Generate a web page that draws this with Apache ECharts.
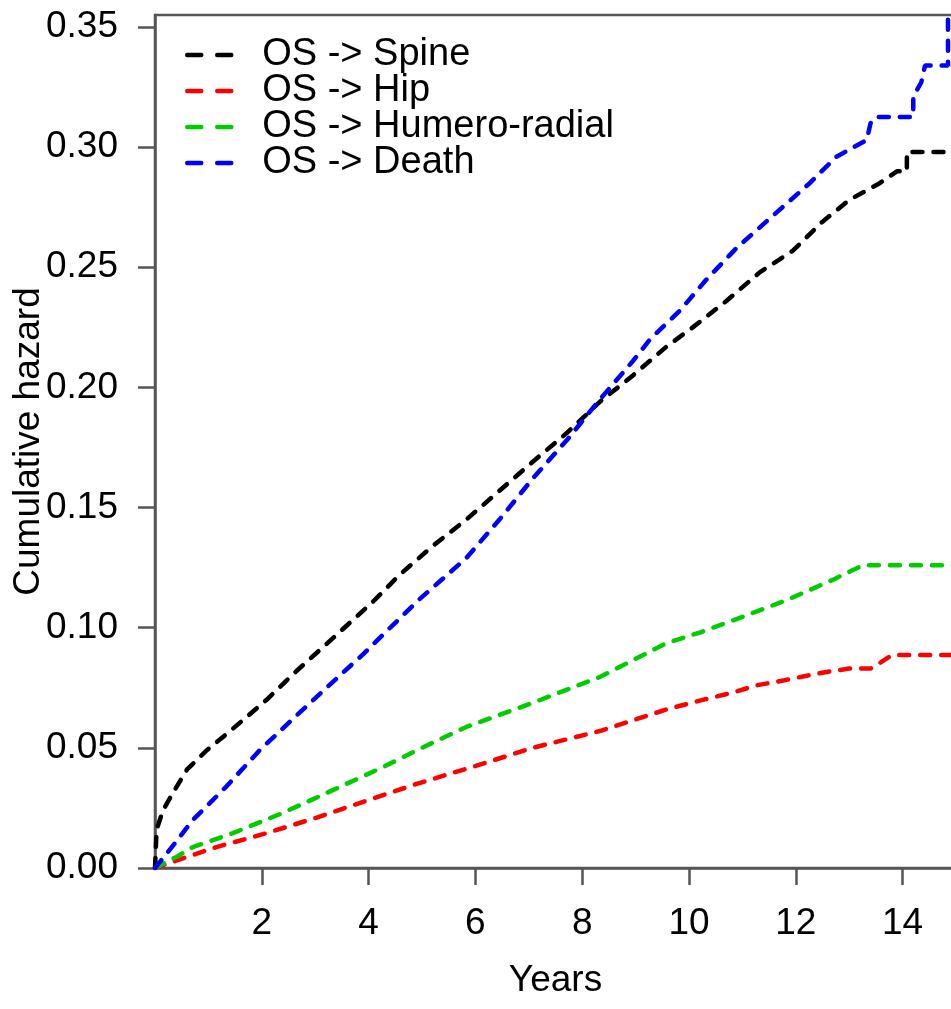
<!DOCTYPE html>
<html>
<head>
<meta charset="utf-8">
<script src="https://cdn.jsdelivr.net/npm/echarts@6/dist/echarts.min.js"></script>
<style>
  html, body { margin: 0; padding: 0; background: #fff; overflow: hidden; }
  #chart { width: 960px; height: 1009px; }
</style>
</head>
<body>
<div id="chart"></div>
<script>
// cumulative hazard curves, [years, hazard]
var spineData = [[0,0],[0.03,0.016],[0.15,0.024],[0.33,0.031],[0.6,0.041],[0.97,0.049],[1.46,0.058],[2.09,0.070],[2.65,0.082],[3.2,0.093],[4.09,0.111],[4.58,0.122],[5.2,0.134],[5.83,0.145],[6.45,0.157],[7.07,0.169],[7.71,0.181],[8.33,0.194],[8.95,0.205],[9.58,0.217],[10.07,0.225],[10.7,0.236],[11.33,0.248],[11.95,0.257],[12.5,0.269],[13.0,0.278],[13.57,0.285],[13.9,0.290],[14.08,0.290],[14.08,0.298],[14.95,0.298]];
var hipData = [[0,0],[0.52,0.004],[1.15,0.0087],[2.09,0.0145],[3.03,0.021],[3.96,0.028],[4.9,0.035],[6.08,0.043],[7.07,0.050],[8.33,0.057],[9.58,0.066],[10.26,0.070],[10.82,0.073],[11.26,0.076],[11.76,0.078],[12.2,0.080],[12.58,0.0816],[13.0,0.083],[13.4,0.083],[13.57,0.0853],[13.8,0.0886],[14.95,0.0886]];
var humeroData = [[0,0],[0.4,0.0046],[0.71,0.0087],[1.46,0.0145],[2.4,0.023],[3.34,0.0325],[4.27,0.042],[5.09,0.051],[5.83,0.0587],[7.07,0.0687],[8.33,0.0795],[9.58,0.0936],[10.2,0.098],[11.0,0.1045],[11.83,0.1115],[12.26,0.1157],[12.7,0.120],[13.07,0.124],[13.26,0.126],[14.95,0.126]];
var deathData = [[0,0],[0.22,0.006],[0.71,0.020],[1.34,0.034],[1.96,0.049],[2.58,0.062],[3.21,0.075],[3.9,0.089],[4.45,0.101],[4.96,0.112],[5.83,0.129],[6.45,0.145],[7.07,0.162],[7.71,0.178],[8.33,0.195],[8.95,0.211],[9.27,0.220],[9.83,0.232],[10.33,0.245],[10.89,0.258],[11.7,0.274],[12.26,0.285],[12.76,0.296],[13.33,0.303],[13.4,0.310],[13.5,0.3126],[14.2,0.3126],[14.2,0.321],[14.35,0.327],[14.42,0.334],[14.85,0.334],[14.85,0.37]];

var seriesNames = ['OS -> Spine', 'OS -> Hip', 'OS -> Humero-radial', 'OS -> Death'];
var seriesColors = ['#000000', '#ff0000', '#00cd00', '#0000ff'];
var xTicks = [2, 4, 6, 8, 10, 12, 14];
var yTicks = [0, 0.05, 0.1, 0.15, 0.2, 0.25, 0.3, 0.35];

var font = 'Liberation Sans, Arial, sans-serif';
var axisColor = '#555';

var myChart = echarts.init(document.getElementById('chart'));

function makeSeries(i, data) {
    return {
        name: seriesNames[i],
        type: 'line',
        data: data,
        showSymbol: false,
        symbol: 'none',
        itemStyle: { color: seriesColors[i] },
        lineStyle: {
            color: seriesColors[i],
            width: 4.5,
            type: [10, 11],
            cap: 'round'
        }
    };
}

myChart.setOption({
    animation: false,
    backgroundColor: '#fff',
    grid: {
        left: 155,
        top: 15,
        width: 801,
        bottom: 141,
        show: true,
        borderColor: axisColor,
        borderWidth: 2.5,
        containLabel: false,
        outerBoundsMode: 'none'
    },
    legend: {
        orient: 'vertical',
        left: 180,
        top: 31,
        itemWidth: 50,
        itemHeight: 14,
        itemGap: -2,
        selectedMode: false,
        data: seriesNames,
        itemStyle: { opacity: 0 },
        lineStyle: { width: 4.5, type: [14, 16], cap: 'round' },
        textStyle: {
            fontFamily: font,
            fontSize: 38,
            color: '#000',
            lineHeight: 35,
            padding: [0, 0, 0, 20]
        }
    },
    xAxis: {
        type: 'value',
        min: 0,
        max: 15,
        name: 'Years',
        nameLocation: 'middle',
        nameGap: 94,
        nameMoveOverlap: false,
        nameTextStyle: { fontFamily: font, fontSize: 37, color: '#000', verticalAlign: 'top' },
        splitLine: { show: false },
        axisLine: { show: true, lineStyle: { color: axisColor, width: 2.5 } },
        axisTick: { show: true, length: 17, customValues: xTicks, lineStyle: { color: axisColor, width: 2.5 } },
        axisLabel: {
            customValues: xTicks,
            margin: 37,
            fontFamily: font,
            fontSize: 37,
            color: '#000'
        }
    },
    yAxis: {
        type: 'value',
        min: 0,
        max: 0.355,
        name: 'Cumulative hazard',
        nameLocation: 'middle',
        nameGap: 108,
        nameMoveOverlap: false,
        nameTextStyle: { fontFamily: font, fontSize: 37, color: '#000' },
        splitLine: { show: false },
        axisLine: { show: true, lineStyle: { color: axisColor, width: 2.5 } },
        axisTick: { show: true, length: 17, customValues: yTicks, lineStyle: { color: axisColor, width: 2.5 } },
        axisLabel: {
            customValues: yTicks,
            margin: 37,
            fontFamily: font,
            fontSize: 37,
            color: '#000',
            formatter: function (v) { return v.toFixed(2); }
        }
    },
    series: [
        makeSeries(0, spineData),
        makeSeries(1, hipData),
        makeSeries(2, humeroData),
        makeSeries(3, deathData)
    ]
});
</script>
</body>
</html>
